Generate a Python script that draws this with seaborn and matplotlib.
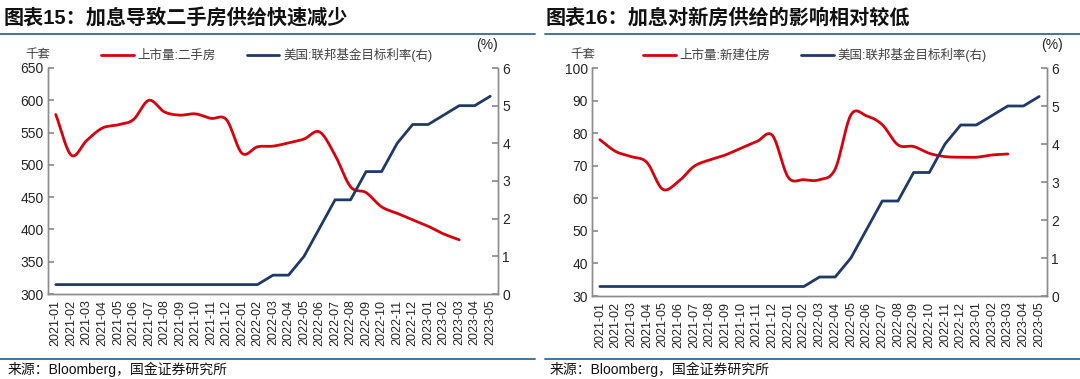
import numpy as np
import pandas as pd
import matplotlib
matplotlib.use("Agg")
import matplotlib.pyplot as plt
import seaborn as sns
from matplotlib.lines import Line2D

# ---------------- data ----------------
months = ["2021-01", "2021-02", "2021-03", "2021-04", "2021-05", "2021-06",
          "2021-07", "2021-08", "2021-09", "2021-10", "2021-11", "2021-12",
          "2022-01", "2022-02", "2022-03", "2022-04", "2022-05", "2022-06",
          "2022-07", "2022-08", "2022-09", "2022-10", "2022-11", "2022-12",
          "2023-01", "2023-02", "2023-03", "2023-04", "2023-05"]

fed_rate = [0.25, 0.25, 0.25, 0.25, 0.25, 0.25, 0.25, 0.25, 0.25, 0.25,
            0.25, 0.25, 0.25, 0.25, 0.50, 0.50, 1.00, 1.75, 2.50, 2.50,
            3.25, 3.25, 4.00, 4.50, 4.50, 4.75, 5.00, 5.00, 5.25]

second_hand = [578, 515, 538, 557, 562, 570, 600, 582, 577, 579, 572, 570,
               518, 528, 529, 534, 540, 551, 515, 466, 457, 435, 425, 415,
               405, 393, 384]

new_home = [78.0, 74.4, 72.8, 71.0, 62.8, 65.1, 69.8, 71.8, 73.3, 75.4, 77.4,
            79.3, 66.5, 65.7, 65.7, 69.0, 85.6, 85.3, 82.6, 76.4, 75.9, 73.8,
            72.8, 72.6, 72.6, 73.3, 73.6]

titles = ["图表15：加息导致二手房供给快速减少", "图表16：加息对新房供给的影响相对较低"]
red_labels = ["上市量:二手房", "上市量:新建住房"]
blue_label = "美国:联邦基金目标利率(右)"
source = "来源：Bloomberg，国金证券研究所"

# ---------------- style ----------------
sns.set_theme(style="white")
plt.rcParams["font.family"] = ["Liberation Sans", "Noto Sans CJK SC", "DejaVu Sans"]

RED = "#D9000D"
BLUE = "#1F3A68"
RULE = "#2E6A97"
GRAY = "#8C8C8C"
TXT = "#262626"

W, H = 1080, 379
fig = plt.figure(figsize=(W / 100, H / 100), dpi=100)


def smooth(y):
    """Catmull-Rom rendering of a smoothed line through the data points."""
    y = np.asarray(y, float)
    n = len(y)
    p = np.concatenate([[2 * y[0] - y[1]], y, [2 * y[-1] - y[-2]]])
    xs, ys = [], []
    for i in range(n - 1):
        p0, p1, p2, p3 = p[i], p[i + 1], p[i + 2], p[i + 3]
        t = np.linspace(0, 1, 20, endpoint=False)
        yy = 0.5 * ((2 * p1) + (-p0 + p2) * t + (2 * p0 - 5 * p1 + 4 * p2 - p3) * t ** 2
                    + (-p0 + 3 * p1 - 3 * p2 + p3) * t ** 3)
        xs.append(i + t)
        ys.append(yy)
    xs.append([n - 1])
    ys.append([y[-1]])
    return np.concatenate(xs), np.concatenate(ys)


def px(x0, y_top, x1, y_bot):
    return [x0 / W, 1 - y_bot / H, (x1 - x0) / W, (y_bot - y_top) / H]


def panel(rect, red_vals, red_label, ylim, yticks, title, tx, rule_x, legend_x, unit_x, pct_x):
    ax = fig.add_axes(rect)
    ax2 = ax.twinx()
    xs, ys = smooth(red_vals)
    df_red = pd.DataFrame({"x": xs, "y": ys})
    df_fed = pd.DataFrame({"x": np.arange(len(fed_rate)), "y": fed_rate})
    sns.lineplot(data=df_red, x="x", y="y", ax=ax, color=RED, lw=2.0, sort=False)
    sns.lineplot(data=df_fed, x="x", y="y", ax=ax2, color=BLUE, lw=2.0)

    for a in (ax, ax2):
        a.set_xlim(-0.5, len(months) - 0.5)
        a.set_xlabel("")
        a.set_ylabel("")
        for s in a.spines.values():
            s.set_color(GRAY)
            s.set_linewidth(1.0)
        a.spines["top"].set_visible(False)
        a.grid(False)
    ax.set_ylim(*ylim)
    ax.set_yticks(yticks)
    ax2.set_ylim(0, 6)
    ax2.set_yticks(range(0, 7))

    ax.set_xticks(range(len(months)))
    ax.set_xticklabels(months, rotation=90, fontsize=9, color=TXT)
    ax.set_xticks(np.arange(len(months) - 1) + 0.5, minor=True)
    ax.tick_params(axis="x", which="major", length=0, pad=4)
    ax.tick_params(axis="x", which="minor", length=4, direction="in", color=GRAY, width=1)
    ax.tick_params(axis="y", length=4, direction="in", color=GRAY, labelsize=10, labelcolor=TXT, pad=3)
    ax2.tick_params(axis="y", length=4, direction="in", color=GRAY, labelsize=10, labelcolor=TXT, pad=3)

    handles = [Line2D([], [], color=RED, lw=2.0), Line2D([], [], color=BLUE, lw=2.0)]
    fig.legend(handles, [red_label, blue_label], loc="center left",
               bbox_to_anchor=(legend_x / W, 1 - 55 / H), ncol=2, frameon=False,
               fontsize=9, handlelength=2.6, handletextpad=0.3, columnspacing=2.5,
               labelcolor="#404040", borderaxespad=0, borderpad=0)
    fig.text(unit_x / W, 1 - 55 / H, "千套", fontsize=9, color="#404040", ha="center", va="center")
    fig.text(pct_x / W, 1 - 45 / H, "(%)", fontsize=10, color=TXT, ha="center", va="center")

    fig.text(tx / W, 1 - 18 / H, title, fontsize=14.5, fontweight="bold", color="#111111",
             ha="left", va="center")
    fig.add_artist(Line2D([rule_x[0] / W, rule_x[1] / W], [1 - 34 / H] * 2,
                          transform=fig.transFigure, color=RULE, lw=1.3))
    fig.add_artist(Line2D([rule_x[0] / W, rule_x[1] / W], [1 - 359 / H] * 2,
                          transform=fig.transFigure, color=RULE, lw=1.3))
    fig.text((tx + 4) / W, 1 - 369 / H, source, fontsize=10, color="#111111", ha="left", va="center")
    return ax


panel(px(48, 68, 498, 294), second_hand, red_labels[0], (300, 650), range(300, 651, 50),
      titles[0], 4, (0, 535), 101, 38, 487)
panel(px(592, 68, 1047, 296), new_home, red_labels[1], (30, 100), range(30, 101, 10),
      titles[1], 546, (545, 1080), 643, 583, 1052)

fig.savefig("out.png", dpi=100)
